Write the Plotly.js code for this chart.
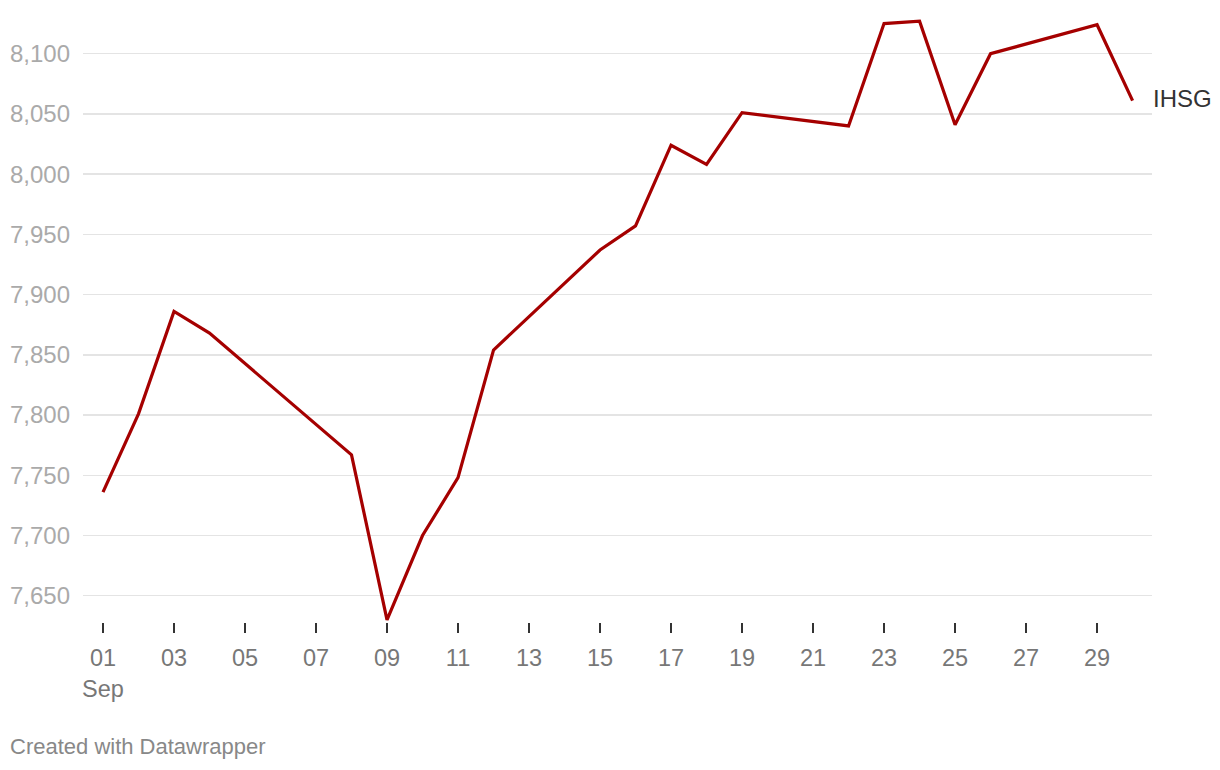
<!DOCTYPE html>
<html>
<head>
<meta charset="utf-8">
<script src="https://cdn.plot.ly/plotly-3.0.1.min.js"></script>
<style>
html,body{margin:0;padding:0;background:#fff;}
#chart{width:1220px;height:770px;}
</style>
</head>
<body>
<div id="chart"></div>
<script>
const dates = ['2025-09-01','2025-09-02','2025-09-03','2025-09-04','2025-09-08','2025-09-09','2025-09-10','2025-09-11','2025-09-12','2025-09-15','2025-09-16','2025-09-17','2025-09-18','2025-09-19','2025-09-22','2025-09-23','2025-09-24','2025-09-25','2025-09-26','2025-09-29','2025-09-30'];
const ihsg = [7736, 7801, 7886, 7868, 7767, 7630, 7700, 7748, 7854, 7937, 7957, 8024, 8008, 8051, 8040, 8125, 8127, 8041, 8100, 8124, 8061];
const seriesName = 'IHSG';
const xTickVals = ['2025-09-01','2025-09-03','2025-09-05','2025-09-07','2025-09-09','2025-09-11','2025-09-13','2025-09-15','2025-09-17','2025-09-19','2025-09-21','2025-09-23','2025-09-25','2025-09-27','2025-09-29'];
const xTickText = ['01<br>Sep','03','05','07','09','11','13','15','17','19','21','23','25','27','29'];
const yTickVals = [7650, 7700, 7750, 7800, 7850, 7900, 7950, 8000, 8050, 8100];
const credit = 'Created with Datawrapper';

const FONT = '"Liberation Sans", Arial, Helvetica, sans-serif';

const trace = {
  x: dates, y: ihsg, type: 'scatter', mode: 'lines',
  line: {color: '#a50000', width: 3.2},
  hoverinfo: 'skip'
};

const layout = {
  width: 1220, height: 770,
  margin: {l: 83, r: 68, t: 15, b: 148},
  paper_bgcolor: '#fff', plot_bgcolor: '#fff',
  showlegend: false,
  font: {family: FONT},
  xaxis: {
    type: 'date',
    range: ['2025-08-31 10:29', '2025-09-30 13:08'],
    tickmode: 'array', tickvals: xTickVals, ticktext: xTickText,
    ticks: 'outside', ticklen: 10, tickwidth: 2, tickcolor: '#333',
    showgrid: false, zeroline: false, showline: false,
    tickfont: {family: FONT, size: 23.5, color: '#777'},
    ticklabelstandoff: 5
  },
  yaxis: {
    range: [7628.2, 8132.1],
    tickmode: 'array', tickvals: yTickVals,
    ticktext: yTickVals.map(v => v.toLocaleString('en-US')),
    showgrid: true, gridcolor: '#e4e4e4', gridwidth: 1.5,
    zeroline: false, showline: false, ticks: '',
    tickfont: {family: FONT, size: 24, color: '#aaa'},
    ticklabelstandoff: 12
  },
  annotations: [
    {x: dates[dates.length-1], y: ihsg[ihsg.length-1], xref: 'x', yref: 'y',
     text: seriesName, showarrow: false, xanchor: 'left', yanchor: 'middle',
     xshift: 18, yshift: 2, font: {family: FONT, size: 24, color: '#333'}},
    {x: (8-83)/1069, y: (622-746)/607, xref: 'paper', yref: 'paper',
     text: credit, showarrow: false, xanchor: 'left', yanchor: 'middle',
     font: {family: FONT, size: 22, color: '#888'}}
  ]
};

Plotly.newPlot('chart', [trace], layout, {displayModeBar: false, staticPlot: true});
</script>
</body>
</html>
